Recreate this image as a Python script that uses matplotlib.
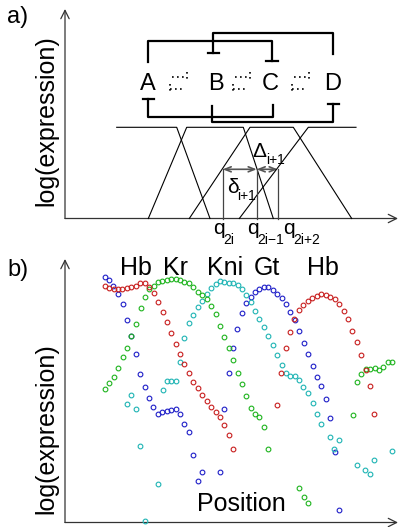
import matplotlib
matplotlib.use("Agg")
import matplotlib.pyplot as plt
from matplotlib.patches import FancyArrowPatch

plt.rcParams['font.family'] = ['Liberation Sans', 'DejaVu Sans']

W, H = 399, 527

# ---------------- Panel b data (position, log expression) ----------------
hb_x1 = [105, 109.3, 113.5, 118, 122.3, 127, 131.3, 135.7, 140, 144.5, 149.3, 153.7, 158, 162.7,
         167, 171.3, 176, 180.3, 184.3, 188.7, 193.3, 197.7, 202.3, 206.7, 211.3, 215.5, 220,
         224.3, 228.7, 233.3]
hb_y1 = [236, 234.8, 233.5, 233.5, 233.5, 234.2, 235, 236.8, 239.2, 239.2, 235.2, 229.2, 220.5,
         210.8, 200, 189.5, 178.2, 168.3, 158.8, 149.5, 141, 134.3, 128, 121.5, 115.5, 110.5,
         106, 97.5, 87.7, 73.2]
hb_x2 = [277, 281.3, 286, 290, 294.3, 298.7, 303.3, 308, 312.3, 317, 321.3, 325.7, 330, 334.7,
         339, 343.5, 348, 352.3, 356.7, 361, 365.5, 370, 374.3]
hb_y2 = [117.5, 149.5, 174.2, 190.8, 203, 212.5, 217, 221, 224.3, 226.5, 228.3, 227.7, 225.7,
         223.2, 218.3, 211, 203.3, 191.3, 180.2, 167.2, 152.5, 136.8, 108.8]

kr_x1 = [105, 109.3, 113.5, 118.3, 122.7, 127.2, 131.3, 136, 140.5, 144.8, 149.2, 153.7, 158,
         162.3, 166.7, 171, 175.7, 180, 184.3, 189, 193.3, 197.7, 202, 206.7, 211, 215.5, 220,
         224.3, 228.5, 233.2, 237.7, 242, 246.3, 250.7, 255, 259.3, 264, 268.3]
kr_y1 = [133.8, 139.2, 145.3, 154.8, 165.3, 174.2, 186.8, 198.8, 214.3, 225.8, 233, 236.8,
         240.5, 241.5, 242.2, 243.2, 243.5, 242.8, 240.8, 239.2, 235.5, 230.5, 227.5, 223.2,
         216.8, 208, 196.8, 185.5, 174.5, 162.8, 149.7, 138.5, 126.8, 114.8, 108.3, 105.3,
         96, 73.5]
kr_x2 = [299, 303.5, 308, 352.5, 356.7, 361.2, 365.7, 370, 374.5, 378.8, 383.2, 387.5, 392]
kr_y2 = [34.7, 25.8, 20, 107.7, 141, 149, 153.3, 153.2, 154.2, 152.3, 155.2, 160.3, 160.3]

kni_x = [126.8, 131.2, 135.7, 140.2, 144.7, 157.8, 162.5, 166.7, 171.3, 175.7, 180.2, 184.3,
         188.8, 193.3, 197.7, 202.3, 206.7, 211, 215.5, 219.8, 224.3, 228.7, 233, 237.5, 241.8,
         246.2, 250.7, 255, 259.3, 263.8, 268.3, 272.7, 277, 281.5, 286, 290.3, 294.6, 299,
         303.3, 307.7, 312.5, 316.8, 321, 330, 334.3, 338.8, 356.7, 365.3, 370, 374.3, 392]
kni_y = [118.5, 127.2, 113.5, 76.8, 1.5, 38.2, 132.5, 141.5, 141.5, 141.5, 160.8, 184.5, 199.5,
         207.5, 215, 221.5, 228.2, 234, 238.5, 241.2, 240.8, 239.2, 239.1, 237.1, 233.2, 227.9,
         220.2, 211.5, 203.3, 195.2, 187, 177.9, 167.9, 157.9, 149.5, 146.5, 146.7, 142.2,
         135.7, 129.5, 119.2, 108.7, 98.7, 85.7, 73.3, 82.2, 58, 53, 48.8, 62.2, 72]

gt_x = [105, 109.2, 113.3, 118.2, 122.5, 127.2, 131.3, 135.7, 140.2, 144.8, 149, 153.3, 158,
        162.3, 166.7, 171.3, 175.7, 180.2, 184.3, 188.8, 193.2, 197.7, 202.3, 220, 224.3, 228.5,
        232.8, 237.3, 241.8, 246.2, 250.7, 255, 259.3, 264, 268.3, 272.7, 277, 281.7, 286,
        290.3, 294.6, 299, 303.5, 308, 312.7, 317, 321.2, 325.7, 330, 334.7, 338.8]
gt_y = [245.3, 242.3, 236.7, 228.3, 218.7, 202.3, 186.8, 168.5, 148.3, 135.5, 124.8, 115.8,
        108.7, 110.7, 112, 112.3, 113.3, 108.7, 98.2, 90.2, 67.8, 41.3, 51, 51, 113.3, 149.8,
        174.2, 193.7, 209.8, 219.8, 225.8, 230.8, 233.5, 235.2, 235, 232.3, 228.3, 224.2,
        218.3, 210.8, 202.2, 191.5, 179.8, 169, 157, 146, 136.5, 123.2, 104.7, 70.2, 12.3]

gene_labels = ['Hb', 'Kr', 'Kni', 'Gt', 'Hb']
gene_label_x = [136, 175.5, 225, 267, 322.5]

# ---------------- Panel a schematic (pixel coords) ----------------
prof_A_x = [116.7, 176.7, 210.0]
prof_A_y = [127.3, 127.3, 218.5]
prof_B_x = [148.3, 186.7, 243.3, 273.3]
prof_B_y = [218.5, 127.3, 127.3, 218.5]
prof_C_x = [189.3, 250.0, 293.3, 351.7]
prof_C_y = [218.5, 127.3, 127.3, 218.5]
prof_D_x = [239.3, 308.3, 356.0]
prof_D_y = [218.5, 127.3, 127.3]

node_names = ['A', 'B', 'C', 'D']
node_x = [147.5, 215.5, 270.5, 332.5]
q_x = [222.7, 256.7, 277.7]
q_labels = ['2i', '2i\u22121', '2i+2']

fig = plt.figure(figsize=(W / 100, H / 100), dpi=100)

# overlay axes in pixel coordinates
ov = fig.add_axes([0, 0, 1, 1])
ov.set_xlim(0, W)
ov.set_ylim(H, 0)
ov.axis('off')

# panel b axes
x0b, x1b, ytop_b, ybot_b = 65, 398, 258, 522.5
axb = fig.add_axes([x0b / W, (H - ybot_b) / H, (x1b - x0b) / W, (ybot_b - ytop_b) / H])
axb.set_xlim(x0b, x1b)
axb.set_ylim(0, ybot_b - ytop_b)
axb.axis('off')

axis_col = '#333333'


def arrow(ax, p0, p1, style='->,head_length=0.6,head_width=0.3', col=axis_col, lw=0.9, ms=10):
    a = FancyArrowPatch(p0, p1, arrowstyle=style, color=col, lw=lw, mutation_scale=ms,
                        shrinkA=0, shrinkB=0, clip_on=False)
    ax.add_patch(a)


# axes arrows panel a
arrow(ov, (65, 218.5), (65, 9))
arrow(ov, (65, 218.5), (398, 218.5))
# axes arrows panel b
arrow(ov, (65, 522.5), (65, 259))
arrow(ov, (65, 522.5), (398, 522.5))

# profiles
for px, py in [(prof_A_x, prof_A_y), (prof_B_x, prof_B_y), (prof_C_x, prof_C_y), (prof_D_x, prof_D_y)]:
    ov.plot(px, py, color='black', lw=0.8, solid_joinstyle='miter')

# q vertical lines and delta arrows
for qx in q_x:
    ov.plot([qx, qx], [218.5, 169.3], color='#444444', lw=0.9)
arrow(ov, (q_x[0], 169.3), (q_x[1], 169.3), style='<->,head_length=0.45,head_width=0.18',
      col='#555555', lw=1.2)
arrow(ov, (q_x[1], 169.3), (q_x[2], 169.3), style='<->,head_length=0.45,head_width=0.18',
      col='#555555', lw=1.2)

ov.text(227, 193, '\u03b4', fontsize=15, ha='left', va='baseline')
ov.text(237, 200.5, 'i+1', fontsize=10, ha='left', va='baseline')
ov.text(252.5, 157, '\u0394', fontsize=15, ha='left', va='baseline')
ov.text(266.5, 163.5, 'i+1', fontsize=10, ha='left', va='baseline')

for qx, ql, qleft in zip(q_x, q_labels, [213, 247, 283]):
    ov.text(qleft, 233.5, 'q', fontsize=15, ha='left', va='baseline')
    ov.text(qleft + 10.5, 243.5, ql, fontsize=10, ha='left', va='baseline')

# nodes
for nx, nn in zip(node_x, node_names):
    ov.text(nx, 90, nn, fontsize=17, ha='center', va='baseline')

# brackets (repression)
lwb = 1.6
ov.plot([148.3, 148.3, 271.7, 271.7], [61.7, 40.5, 40.5, 60.5], color='black', lw=lwb)
ov.plot([266, 277.5], [60.5, 60.5], color='black', lw=lwb)
ov.plot([333.3, 333.3, 213.3, 213.3], [54, 32.5, 32.5, 52.5], color='black', lw=lwb)
ov.plot([207.5, 219], [52.5, 52.5], color='black', lw=lwb)
ov.plot([273.3, 273.3, 148.3, 148.3], [104.5, 116.7, 116.7, 98.5], color='black', lw=lwb)
ov.plot([142.5, 154], [98.5, 98.5], color='black', lw=lwb)
ov.plot([211.7, 211.7, 333.3, 333.3], [106, 122.3, 122.3, 103.5], color='black', lw=lwb)
ov.plot([327.5, 339], [103.5, 103.5], color='black', lw=lwb)

# dotted exchange symbols
for sx in [169, 232, 291]:
    ov.plot([sx + 3, sx + 18], [76.5, 76.5], color='black', lw=1.2, ls=(0, (1, 2)))
    ov.plot([sx + 18, sx + 18], [71.5, 80.5], color='black', lw=1.2, ls=(0, (1, 2)))
    ov.plot([sx + 1, sx + 16], [89.3, 89.3], color='black', lw=1.2, ls=(0, (1, 2)))
    ov.plot([sx + 1, sx + 1], [84, 92], color='black', lw=1.2, ls=(0, (1, 2)))

# panel letters and labels
ov.text(7, 17, 'a)', fontsize=17, ha='left', va='center')
ov.text(7, 270, 'b)', fontsize=17, ha='left', va='center')
ov.text(46, 121, 'log(expression)', fontsize=18, rotation=90, ha='center', va='center')
ov.text(46, 429, 'log(expression)', fontsize=18, rotation=90, ha='center', va='center')
ov.text(241, 511, 'Position', fontsize=18, ha='center', va='baseline')
for gx, gl in zip(gene_label_x, gene_labels):
    ov.text(gx, 275, gl, fontsize=18, ha='center', va='baseline')

# scatter
mk = dict(marker='o', ls='none', mfc='none', ms=3.4, mew=0.8, clip_on=False)
axb.plot(gt_x, gt_y, color='#1e1ec8', **mk)
axb.plot(kni_x, kni_y, color='#1eb4b4', **mk)
axb.plot(kr_x1, kr_y1, color='#1eb41e', **mk)
axb.plot(kr_x2, kr_y2, color='#1eb41e', **mk)
axb.plot(hb_x1, hb_y1, color='#c81e1e', **mk)
axb.plot(hb_x2, hb_y2, color='#c81e1e', **mk)

fig.savefig('out.png', dpi=100)
